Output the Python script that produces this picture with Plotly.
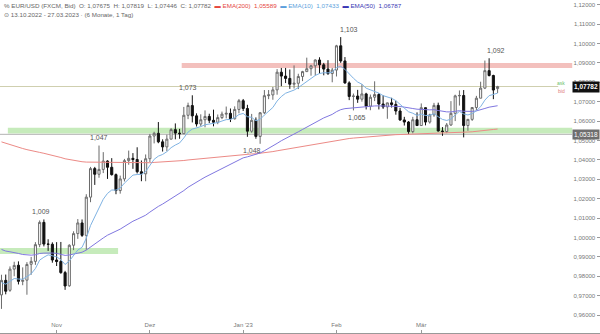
import pandas as pd
import plotly.graph_objects as go

# ---- daily EUR/USD candles (FXCM, bid), 13.10.2022 - 27.03.2023 ----
dates = pd.bdate_range("2022-10-13", "2023-03-27").strftime("%Y-%m-%d").tolist()

opens = [
    0.9704, 0.9779, 0.9728, 0.9837, 0.9857, 0.9774, 0.9780, 0.9862, 0.9877, 0.9963, 1.0078, 0.9966, 0.9965,
    0.9884, 0.9876, 0.9819, 0.9751, 0.9960, 1.0020, 1.0075, 1.0011, 1.0208, 1.0355, 1.0326, 1.0351, 1.0394,
    1.0362, 1.0324, 1.0242, 1.0302, 1.0396, 1.0408, 1.0402, 1.0339, 1.0328,
    1.0406, 1.0523, 1.0537, 1.0493, 1.0467, 1.0507, 1.0556, 1.0538, 1.0535, 1.0630, 1.0680, 1.0627, 1.0585,
    1.0607, 1.0624, 1.0604, 1.0594, 1.0618, 1.0636, 1.0640, 1.0612, 1.0660,
    1.0705, 1.0665, 1.0548, 1.0604, 1.0521, 1.0643, 1.0731, 1.0735, 1.0761, 1.0852, 1.0832, 1.0820, 1.0790,
    1.0795, 1.0830, 1.0855, 1.0870, 1.0885, 1.0915, 1.0890, 1.0868, 1.0845,
    1.0863, 1.0988, 1.0910, 1.0797, 1.0727, 1.0729, 1.0713, 1.0740, 1.0677, 1.0723, 1.0737, 1.0688, 1.0673,
    1.0694, 1.0686, 1.0652, 1.0606, 1.0595, 1.0546, 1.0607,
    1.0577, 1.0669, 1.0595, 1.0632, 1.0681, 1.0549, 1.0546, 1.0580, 1.0640, 1.0730, 1.0732, 1.0577, 1.0609,
    1.0670, 1.0718, 1.0770, 1.0860, 1.0835, 1.07675,
]
highs = [
    0.9808, 0.9809, 0.9851, 0.9875, 0.9877, 0.9846, 0.9873, 0.9900, 0.9976, 1.0088, 1.0093, 0.9991, 0.9975,
    0.9976, 0.9977, 0.9828, 0.9965, 1.0032, 1.0095, 1.0093, 1.0223, 1.0364, 1.0364, 1.0474, 1.0440, 1.0398,
    1.0409, 1.0330, 1.0319, 1.0405, 1.0448, 1.0435, 1.0465, 1.0397, 1.0428,
    1.0534, 1.0545, 1.0595, 1.0506, 1.0530, 1.0564, 1.0588, 1.0560, 1.0673, 1.0695, 1.0733, 1.0640, 1.0635,
    1.0655, 1.0638, 1.0659, 1.0634, 1.0649, 1.0675, 1.0665, 1.0676, 1.0714,
    1.0714, 1.0684, 1.0637, 1.0619, 1.0646, 1.0760, 1.0760, 1.0776, 1.0868, 1.0874, 1.0874, 1.0866, 1.0887,
    1.0844, 1.0859, 1.0927, 1.0890, 1.0918, 1.0929, 1.0900, 1.0914, 1.0874,
    1.0993, 1.1033, 1.0930, 1.0805, 1.0742, 1.0761, 1.0790, 1.0746, 1.0737, 1.0805, 1.0744, 1.0733, 1.0695,
    1.0720, 1.0705, 1.0668, 1.0622, 1.0600, 1.0622, 1.0645,
    1.0691, 1.0670, 1.0638, 1.0694, 1.0695, 1.0569, 1.0590, 1.0703, 1.0736, 1.0758, 1.0760, 1.0611, 1.0670,
    1.0730, 1.0803, 1.0912, 1.0924, 1.0839, 1.07819,
]
lows = [
    0.9632, 0.9707, 0.9720, 0.9800, 0.9758, 0.9754, 0.9705, 0.9808, 0.9859, 0.9950, 0.9954, 0.9931, 0.9870,
    0.9853, 0.9813, 0.9730, 0.9746, 0.9935, 0.9993, 1.0003, 0.9937, 1.0182, 1.0271, 1.0308, 1.0332, 1.0302,
    1.0319, 1.0223, 1.0226, 1.0289, 1.0375, 1.0354, 1.0330, 1.0290, 1.0290,
    1.0389, 1.0485, 1.0486, 1.0443, 1.0445, 1.0506, 1.0506, 1.0509, 1.0533, 1.0610, 1.0593, 1.0572, 1.0573,
    1.0568, 1.0590, 1.0573, 1.0584, 1.0610, 1.0614, 1.0595, 1.0608, 1.0640,
    1.0652, 1.0519, 1.0540, 1.0509, 1.0483, 1.0636, 1.0713, 1.0710, 1.0736, 1.0780, 1.0796, 1.0766, 1.0768,
    1.0765, 1.0806, 1.0855, 1.0834, 1.0835, 1.0845, 1.0836, 1.0838, 1.0800,
    1.0830, 1.0900, 1.0792, 1.0708, 1.0655, 1.0694, 1.0700, 1.0660, 1.0656, 1.0703, 1.0660, 1.0663, 1.0612,
    1.0670, 1.0633, 1.0601, 1.0577, 1.0533, 1.0537, 1.0575,
    1.0575, 1.0578, 1.0587, 1.0622, 1.0546, 1.0524, 1.0538, 1.0575, 1.0600, 1.0680, 1.0516, 1.0550, 1.0601,
    1.0656, 1.0718, 1.0765, 1.0830, 1.0713, 1.07446,
]
closes = [
    0.9779, 0.9723, 0.9837, 0.9856, 0.9774, 0.9779, 0.9861, 0.9877, 0.9963, 1.0078, 0.9966, 0.9965, 0.9884,
    0.9876, 0.9819, 0.9750, 0.9960, 1.0020, 1.0075, 1.0011, 1.0208, 1.0355, 1.0326, 1.0351, 1.0394, 1.0362,
    1.0324, 1.0242, 1.0302, 1.0396, 1.0408, 1.0402, 1.0339, 1.0328, 1.0406,
    1.0523, 1.0537, 1.0493, 1.0467, 1.0507, 1.0556, 1.0538, 1.0535, 1.0630, 1.0680, 1.0627, 1.0585, 1.0607,
    1.0624, 1.0604, 1.0594, 1.0618, 1.0636, 1.0640, 1.0612, 1.0660, 1.0705,
    1.0665, 1.0548, 1.0604, 1.0521, 1.0643, 1.0731, 1.0735, 1.0761, 1.0852, 1.0832, 1.0820, 1.0790, 1.0795,
    1.0830, 1.0855, 1.0870, 1.0885, 1.0915, 1.0890, 1.0868, 1.0845, 1.0863,
    1.0988, 1.0910, 1.0797, 1.0727, 1.0729, 1.0713, 1.0740, 1.0677, 1.0723, 1.0737, 1.0688, 1.0673, 1.0694,
    1.0686, 1.0652, 1.0606, 1.0595, 1.0546, 1.0607, 1.0577,
    1.0669, 1.0595, 1.0632, 1.0681, 1.0549, 1.0546, 1.0580, 1.0640, 1.0730, 1.0732, 1.0577, 1.0609, 1.0670,
    1.0718, 1.0770, 1.0860, 1.0835, 1.0760, 1.07782,
]

# EMA levels carried in from the days before the first candle
ema_seed = {10: 0.9765, 50: 0.9945, 200: 1.0500}

# axis ticks
month_ticks = ["2022-11-01", "2022-12-01", "2023-01-02", "2023-02-01", "2023-03-01"]
month_labels = ["Nov", "Dez", "Jan '23", "Feb", "Mär"]
price_ticks = [round(0.96 + 0.01 * i, 2) for i in range(17)]

# drawn zones: (first date or None, last date or None, lower, upper, colour)
zones = [
    (None, "2022-11-21", 0.9915, 0.9946, "#c6ebbb"),
    ("2022-10-17", None, 1.0536, 1.0566, "#c6ebbb"),
    ("2022-12-13", None, 1.0874, 1.0900, "#f3c0bd"),
]

# marked swing points
swings = [
    ("2022-10-27", "high"), ("2022-11-15", "high"), ("2022-12-15", "high"),
    ("2023-01-06", "low"), ("2023-02-02", "high"), ("2023-02-07", "low"),
    ("2023-03-23", "high"),
]
swing_xshift = [-3, 0, -4, -8, 8, 4, 7]

level_line = 1.05318
last_price = closes[-1]

header_ohlc = "O: 1,07675  H: 1,07819  L: 1,07446  C: 1,07782"
header_ema = [("EMA(200)", "1,05589", "#e5463e"), ("EMA(10)", "1,07433", "#5d9fdc"),
              ("EMA(50)", "1,06787", "#3a36b4")]
header_range = "13.10.2022 - 27.03.2023 · (6 Monate, 1 Tag)"


def ema(values, n, seed):
    a = 2.0 / (n + 1)
    out, prev = [], seed
    for v in values:
        prev = prev + a * (v - prev)
        out.append(prev)
    return out


def de(v, digits):
    return f"{v:.{digits}f}".replace(".", ",")


ema10 = ema(closes, 10, ema_seed[10])
ema50 = ema(closes, 50, ema_seed[50])
ema200 = ema(closes, 200, ema_seed[200])

FONT = "Liberation Sans, Arial, sans-serif"
X_LEFT = -0.35
X_RIGHT = 141.15
ZONE_RIGHT = 134.6
PRICE_LINE_RIGHT = 131.3

fig = go.Figure()

fig.add_trace(go.Scatter(x=dates, y=ema200, mode="lines", line=dict(color="#ec8a86", width=1),
                         hoverinfo="skip", showlegend=False))
fig.add_trace(go.Scatter(x=dates, y=ema50, mode="lines", line=dict(color="#8077e0", width=1),
                         hoverinfo="skip", showlegend=False))
fig.add_trace(go.Candlestick(
    x=dates, open=opens, high=highs, low=lows, close=closes,
    increasing=dict(line=dict(color="#6a6a6a", width=1), fillcolor="#ffffff"),
    decreasing=dict(line=dict(color="#111111", width=1), fillcolor="#111111"),
    whiskerwidth=0, hoverinfo="skip", showlegend=False,
))
fig.add_trace(go.Scatter(x=dates, y=ema10, mode="lines", line=dict(color="#7fb3e3", width=1),
                         hoverinfo="skip", showlegend=False))

shapes = []
for start, end, lo, hi, col in zones:
    x0 = X_LEFT - 1 if start is None else dates.index(start) - 0.5
    x1 = ZONE_RIGHT if end is None else dates.index(end) + 0.5
    shapes.append(dict(type="rect", xref="x", yref="y", x0=x0, x1=x1, y0=lo, y1=hi,
                       fillcolor=col, line=dict(width=0), layer="below"))
shapes.append(dict(type="line", xref="x", yref="y", x0=X_LEFT, x1=ZONE_RIGHT, y0=level_line, y1=level_line,
                   line=dict(color="#b4b4b4", width=1), layer="below"))
shapes.append(dict(type="line", xref="x", yref="y", x0=X_LEFT, x1=PRICE_LINE_RIGHT, y0=last_price,
                   y1=last_price, line=dict(color="#cfcfae", width=1), layer="below"))

annotations = []
for (d, kind), dx in zip(swings, swing_xshift):
    i = dates.index(d)
    v = highs[i] if kind == "high" else lows[i]
    annotations.append(dict(x=d, y=v, xref="x", yref="y", text=de(v, 3), showarrow=False,
                            xshift=dx, yshift=8 if kind == "high" else -7,
                            font=dict(family=FONT, size=7, color="#555555")))

ema_parts = "".join(
    f"  <span style='color:{c}'>▬ {name}  {val}</span>" for name, val, c in header_ema
)
annotations.append(dict(xref="paper", yref="paper", x=0.004, y=0.982, xanchor="left", yanchor="middle",
                        text=f"% EUR/USD (FXCM, Bid)  {header_ohlc}{ema_parts}", showarrow=False,
                        font=dict(family=FONT, size=6.25, color="#666666")))
annotations.append(dict(xref="paper", yref="paper", x=0.004, y=0.955, xanchor="left", yanchor="middle",
                        text=f"⊙ {header_range}", showarrow=False,
                        font=dict(family=FONT, size=6.25, color="#666666")))

# price tags on the right edge
annotations.append(dict(xref="paper", yref="y", x=1.0, y=last_price, xanchor="right", yanchor="middle",
                        text=f"<b>{de(last_price, 5)}</b>", showarrow=False, bgcolor="#111111",
                        borderpad=1, font=dict(family=FONT, size=6.5, color="#ffffff")))
annotations.append(dict(xref="paper", yref="y", x=1.0, y=level_line, xanchor="right", yanchor="middle",
                        text=de(level_line, 5), showarrow=False, bgcolor="#6e6e6e",
                        borderpad=1, font=dict(family=FONT, size=6.5, color="#ffffff")))
annotations.append(dict(xref="paper", yref="y", x=0.945, y=last_price, xanchor="right", yanchor="middle",
                        yshift=4, text="ask", showarrow=False,
                        font=dict(family=FONT, size=5, color="#6cbf6c")))
annotations.append(dict(xref="paper", yref="y", x=0.945, y=last_price, xanchor="right", yanchor="middle",
                        yshift=-4, text="bid", showarrow=False,
                        font=dict(family=FONT, size=5, color="#e07a7a")))

fig.update_layout(
    width=600, height=334, margin=dict(l=0, r=0, t=0, b=1),
    paper_bgcolor="#ffffff", plot_bgcolor="#ffffff",
    font=dict(family=FONT, size=6, color="#777777"),
    shapes=shapes, annotations=annotations, showlegend=False,
    xaxis=dict(type="category", range=[X_LEFT, X_RIGHT], rangeslider=dict(visible=False),
               showgrid=False, zeroline=False, tickmode="array", tickvals=month_ticks, ticktext=month_labels,
               ticks="inside", ticklen=3, tickcolor="#999999", ticklabelposition="inside",
               showline=True, linecolor="#999999", linewidth=1,
               tickfont=dict(family=FONT, size=6, color="#777777")),
    yaxis=dict(side="right", range=[0.95077, 1.12242], showgrid=False, zeroline=False, showline=False,
               tickmode="array", tickvals=price_ticks, ticktext=[de(v, 5) for v in price_ticks],
               ticks="inside", ticklen=3, tickcolor="#999999", ticklabelposition="inside",
               tickfont=dict(family=FONT, size=6, color="#777777")),
)

fig.write_html("out.html")
